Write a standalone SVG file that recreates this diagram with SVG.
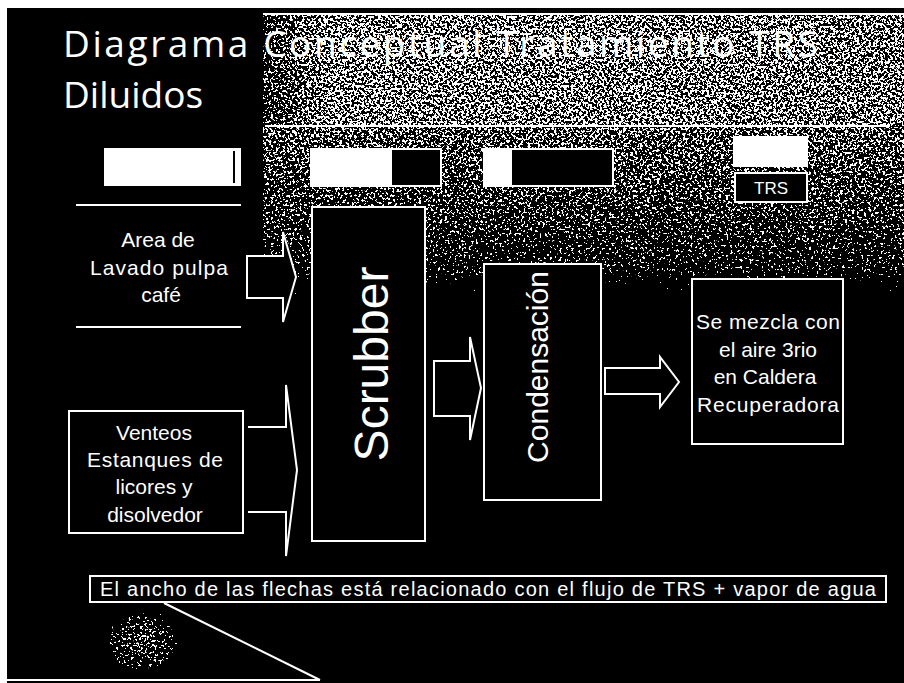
<svg xmlns="http://www.w3.org/2000/svg" width="904" height="683" viewBox="0 0 904 683">
<defs>
<style>
.ln{fill:none;stroke:#fff;stroke-width:2}
.box{fill:#000;stroke:#fff;stroke-width:2}
.wbox{fill:#fff;stroke:#fff;stroke-width:2}
.lbl{font-family:"Liberation Sans",Arial,sans-serif;fill:#fff;font-size:21px;text-anchor:middle}
.big{font-family:"Liberation Sans",Arial,sans-serif;fill:#fff;text-anchor:middle}
.title{font-family:"Open Sans","Liberation Sans",sans-serif;fill:#fff;font-size:37px}
.arrow{fill:#000;stroke:#fff;stroke-width:2;stroke-linejoin:miter}
</style>
<linearGradient id="bandH" x1="0" y1="0" x2="1" y2="0">
<stop offset="0" stop-color="#686868"/>
<stop offset="0.1" stop-color="#828282"/>
<stop offset="1" stop-color="#7e7e7e"/>
</linearGradient>
<linearGradient id="fadeV" x1="0" y1="0" x2="0" y2="1">
<stop offset="0" stop-color="#787878"/>
<stop offset="0.35" stop-color="#6c6c6c"/>
<stop offset="0.75" stop-color="#5a5a5a"/>
<stop offset="1" stop-color="#000"/>
</linearGradient>
<radialGradient id="patch">
<stop offset="0" stop-color="#767676"/>
<stop offset="0.7" stop-color="#5a5a5a"/>
<stop offset="1" stop-color="#000"/>
</radialGradient>
<filter id="dither" filterUnits="userSpaceOnUse" x="7" y="8" width="897" height="675" color-interpolation-filters="sRGB">
<feTurbulence type="fractalNoise" baseFrequency="0.42" numOctaves="2" seed="7" result="n"/>
<feColorMatrix in="n" type="matrix" values="1 0 0 0 0 1 0 0 0 0 1 0 0 0 0 0 0 0 0 1" result="g"/>
<feComposite in="SourceGraphic" in2="g" operator="arithmetic" k1="0" k2="1" k3="1" k4="-1" result="s"/>
<feComponentTransfer in="s">
<feFuncR type="linear" slope="60" intercept="0"/>
<feFuncG type="linear" slope="60" intercept="0"/>
<feFuncB type="linear" slope="60" intercept="0"/>
<feFuncA type="linear" slope="0" intercept="1"/>
</feComponentTransfer>
</filter>
</defs>

<rect x="0" y="0" width="904" height="683" fill="#fff"/>
<g id="background" filter="url(#dither)">
<rect x="7" y="8" width="897" height="675" fill="#000"/>
<rect x="263" y="15" width="641" height="111" fill="url(#bandH)"/>
<rect x="263" y="127" width="641" height="190" fill="url(#fadeV)"/>
<ellipse cx="142" cy="642" rx="45" ry="38" fill="url(#patch)"/>
</g>

<g id="title">
<line class="ln" x1="263" y1="14" x2="904" y2="14"/>
<text class="title" x="63" y="57" textLength="755" lengthAdjust="spacing">Diagrama Conceptual Tratamiento TRS</text>
<text class="title" x="63" y="108">Diluidos</text>
<line class="ln" x1="265" y1="126" x2="890" y2="126"/>
</g>

<g id="legend-1">
<rect class="wbox" x="105" y="149" width="135" height="36"/>
<line x1="234" y1="151" x2="234" y2="183" stroke="#000" stroke-width="2"/>
</g>
<g id="legend-2">
<rect class="box" x="311" y="149" width="130" height="37"/>
<rect x="311" y="149" width="81" height="37" fill="#fff"/>
</g>
<g id="legend-3">
<rect class="box" x="484" y="149" width="129" height="37"/>
<rect x="484" y="149" width="28" height="37" fill="#fff"/>
</g>
<g id="legend-4">
<rect class="wbox" x="734" y="137" width="73" height="29"/>
</g>
<g id="legend-trs">
<rect class="box" x="735" y="173" width="72" height="29"/>
<text class="big" x="771" y="194" font-size="17">TRS</text>
</g>

<g id="area-lavado">
<line class="ln" x1="76" y1="205" x2="241" y2="205"/>
<line class="ln" x1="76" y1="327" x2="241" y2="327"/>
<text class="lbl" x="158" y="247">Area de</text>
<text class="lbl" x="159" y="275" textLength="138" lengthAdjust="spacing">Lavado pulpa</text>
<text class="lbl" x="161" y="302">café</text>
</g>

<g id="venteos">
<rect class="box" x="69" y="411" width="174" height="122"/>
<text class="lbl" x="154" y="440">Venteos</text>
<text class="lbl" x="155" y="467" textLength="136" lengthAdjust="spacing">Estanques de</text>
<text class="lbl" x="154" y="494">licores y</text>
<text class="lbl" x="155" y="522">disolvedor</text>
</g>

<g id="scrubber">
<rect class="box" x="312" y="207" width="113" height="334"/>
<text class="big" font-size="48" transform="translate(388,364) rotate(-90)">Scrubber</text>
</g>

<g id="condensacion">
<rect class="box" x="484" y="264" width="117" height="236"/>
<text class="big" font-size="30" transform="translate(548,367) rotate(-90)">Condensación</text>
</g>

<g id="caldera">
<rect class="box" x="692" y="279" width="151" height="165"/>
<text class="lbl" x="768" y="329" textLength="144" lengthAdjust="spacing">Se mezcla con</text>
<text class="lbl" x="768" y="357">el aire 3rio</text>
<text class="lbl" x="765" y="384">en Caldera</text>
<text class="lbl" x="768" y="412" textLength="142" lengthAdjust="spacing">Recuperadora</text>
</g>

<g id="connectors">
<path class="arrow" d="M247,256 H283 V232 L296,277 L283,322 V298 H247 Z"/>
<path class="arrow" d="M248,427 H286 V385 L297,470 L286,556 V512 H248"/>
<path class="arrow" d="M434,361 H470 V337 L481,388 L470,440 V416 H434 Z"/>
<path class="arrow" d="M605,368 H660 V357 L679,382 L660,407 V394 H605 Z"/>
</g>

<g id="nota">
<rect class="box" x="90" y="576" width="796" height="26"/>
<text class="lbl" x="100" y="596" style="text-anchor:start;font-size:20px" textLength="776" lengthAdjust="spacing">El ancho de las flechas está relacionado con el flujo de TRS + vapor de agua</text>
<line class="ln" x1="164" y1="603" x2="320" y2="680"/>
<line class="ln" x1="7" y1="680" x2="320" y2="680"/>
</g>
</svg>
